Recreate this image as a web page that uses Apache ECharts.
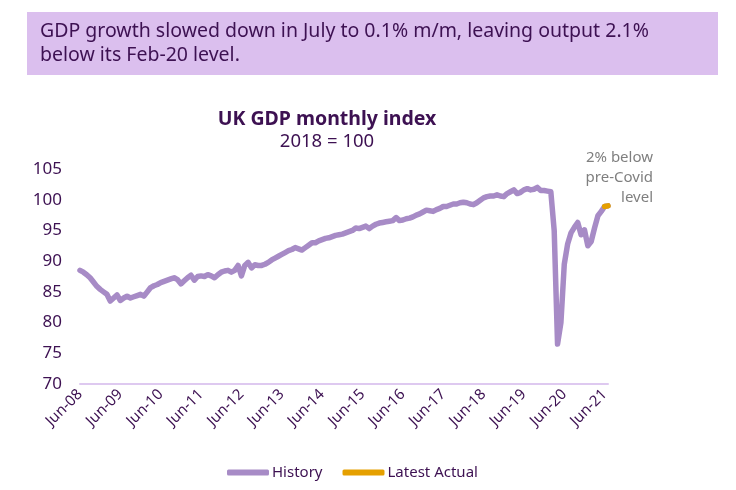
<!DOCTYPE html>
<html><head><meta charset="utf-8">
<script src="https://cdn.jsdelivr.net/npm/echarts@6/dist/echarts.min.js"></script>
<style>html,body{margin:0;padding:0;background:#fff}#c{width:736px;height:490px}</style>
</head><body><div id="c"></div>
<script>
const months = ['Jan','Feb','Mar','Apr','May','Jun','Jul','Aug','Sep','Oct','Nov','Dec'];
const categories = [];
for (let y = 2008, m = 5; !(y === 2021 && m === 7); ) {
  categories.push(months[m] + '-' + String(y).slice(2));
  m++; if (m === 12) { m = 0; y++; }
}
const historyValues = [
  88.5, 88.2, 87.8, 87.3, 86.6, 85.9, 85.4, 85.0, 84.6, 83.5, 84.0, 84.5,
  83.6, 84.0, 84.3, 84.0, 84.2, 84.4, 84.6, 84.3, 85.0, 85.7, 86.0, 86.2,
  86.5, 86.7, 86.9, 87.1, 87.3, 87.0, 86.3, 86.8, 87.3, 87.7, 86.9, 87.5,
  87.6, 87.5, 87.8, 87.6, 87.3, 87.8, 88.2, 88.4, 88.5, 88.2, 88.5, 89.3,
  87.6, 89.3, 89.8, 88.9, 89.4, 89.3, 89.3, 89.5, 89.8, 90.2, 90.5, 90.8,
  91.1, 91.4, 91.7, 91.9, 92.2, 92.0, 91.8, 92.2, 92.6, 93.0, 93.0, 93.3,
  93.5, 93.7, 93.8, 94.0, 94.2, 94.3, 94.4, 94.6, 94.8, 95.0, 95.4, 95.3,
  95.5, 95.7, 95.3, 95.7, 96.0, 96.2, 96.3, 96.4, 96.5, 96.6, 97.1, 96.6,
  96.7, 96.9, 97.0, 97.2, 97.5, 97.7, 98.0, 98.3, 98.2, 98.1, 98.4, 98.6,
  98.9, 98.9, 99.1, 99.3, 99.3, 99.5, 99.6, 99.5, 99.3, 99.2, 99.5, 99.9,
  100.3, 100.5, 100.6, 100.6, 100.8, 100.6, 100.5, 101.0, 101.3, 101.6, 101.0, 101.2,
  101.6, 101.8, 101.6, 101.7, 102.0, 101.5, 101.5, 101.4, 101.3, 95.0, 76.5, 80.0,
  89.5, 92.8, 94.6, 95.5, 96.3, 94.3, 95.1, 92.5, 93.2, 95.4, 97.4, 98.1,
  98.9, 99.0
];
const latestLabels = ['Jun-21', 'Jul-21'];
const latestValues = [98.9, 99.0];
const yTicks = [70, 75, 80, 85, 90, 95, 100, 105];

const latestData = categories.map(c => {
  const i = latestLabels.indexOf(c);
  return i >= 0 ? latestValues[i] : null;
});

const dark = '#3d1152';
const chart = echarts.init(document.getElementById('c'));
chart.setOption({
  animation: false,
  backgroundColor: '#fff',
  textStyle: { fontFamily: 'Noto Sans' },
  graphic: [
    { type: 'rect', shape: { x: 27, y: 12, width: 691, height: 63 }, style: { fill: '#dbbfee' } },
    { type: 'text', x: 40, y: 19, style: { text: 'GDP growth slowed down in July to 0.1% m/m, leaving output 2.1%\nbelow its Feb-20 level.', fill: dark, font: '19.5px "Noto Sans"', lineHeight: 24 } },
    { type: 'text', x: 653, y: 148, style: { text: '2% below\npre-Covid\nlevel', fill: '#7f7f7f', font: '15px "Noto Sans"', lineHeight: 20, align: 'right', verticalAlign: 'top' } }
  ],
  title: {
    text: 'UK GDP monthly index',
    subtext: '2018 = 100',
    left: 322, textAlign: 'center', top: 104,
    itemGap: 3,
    textStyle: { fontSize: 19.5, fontWeight: 'bold', color: dark, fontFamily: 'Noto Sans' },
    subtextStyle: { fontSize: 18.5, color: dark, fontFamily: 'Noto Sans' }
  },
  legend: {
    bottom: 5, left: 222,
    itemWidth: 42, itemHeight: 6, icon: 'roundRect', itemGap: 20,
    textStyle: { color: dark, fontSize: 15, fontFamily: 'Noto Sans', padding: [0, 0, 0, -2] },
    data: ['History', 'Latest Actual']
  },
  grid: { left: 80, right: 128, top: 169, bottom: 106 },
  xAxis: {
    type: 'category', data: categories, boundaryGap: false,
    axisLine: { lineStyle: { color: '#dec9f0', width: 2 } },
    axisTick: { show: false },
    axisLabel: {
      interval: (i) => i % 12 === 0,
      rotate: 45, color: dark, fontSize: 15, margin: 8, fontFamily: 'Noto Sans'
    }
  },
  yAxis: {
    type: 'value', min: 70, max: 105, interval: 5,
    axisLine: { show: false }, axisTick: { show: false }, splitLine: { show: false },
    axisLabel: { color: dark, fontSize: 17, margin: 18, fontFamily: 'Noto Sans' }
  },
  series: [
    { name: 'History', type: 'line', data: historyValues, symbol: 'none', color: '#a78bc6',
      lineStyle: { width: 5.5, color: '#a78bc6', cap: 'round', join: 'round' } },
    { name: 'Latest Actual', type: 'line', data: latestData, symbol: 'none', color: '#e5a000',
      lineStyle: { width: 5.5, color: '#e5a000', cap: 'round' } }
  ]
});
</script></body></html>
